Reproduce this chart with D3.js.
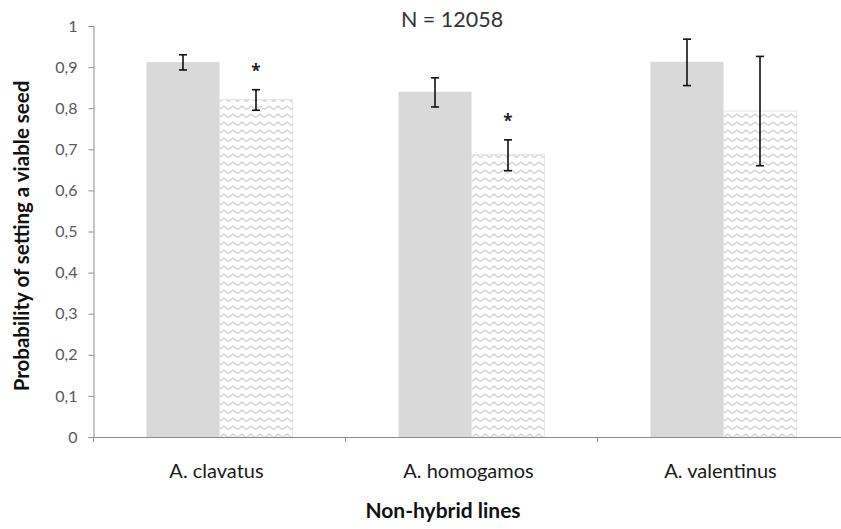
<!DOCTYPE html>
<html>
<head>
<meta charset="utf-8">
<script src="https://cdn.jsdelivr.net/npm/d3@7"></script>
<style>
  html, body { margin: 0; padding: 0; background: #fff; }
  svg { display: block; font-family: Lato, "Open Sans", sans-serif; }
</style>
</head>
<body>
<svg id="chart" width="841" height="529"></svg>
<script>
// Seed viability per line: self (solid) vs. outcross (zigzag) treatments
const categories = ["A. clavatus", "A. homogamos", "A. valentinus"];
const solidValues = [0.912, 0.840, 0.913];
const solidLower = [0.893, 0.803, 0.855];
const solidUpper = [0.930, 0.874, 0.968];
const hatchValues = [0.821, 0.687, 0.793];
const hatchLower = [0.795, 0.648, 0.660];
const hatchUpper = [0.845, 0.723, 0.926];
const significant = [true, true, false];
const yTicks = [0, 0.1, 0.2, 0.3, 0.4, 0.5, 0.6, 0.7, 0.8, 0.9, 1];
const yTickLabels = ["0", "0,1", "0,2", "0,3", "0,4", "0,5", "0,6", "0,7", "0,8", "0,9", "1"];

const svg = d3.select("#chart");
const plotLeft = 93.5, plotTop = 26, plotBottom = 437;
const step = 252;

const y = d3.scaleLinear().domain([0, 1]).range([plotBottom, plotTop]);
const x = d3.scaleBand().domain(categories).range([plotLeft, plotLeft + step * 3]).padding(0);
const sub = d3.scaleBand().domain(["solid", "hatch"])
  .range([x.bandwidth() / 2 - 73, x.bandwidth() / 2 + 73]).padding(0);

// zigzag fill pattern
const defs = svg.append("defs");
const pat = defs.append("pattern")
  .attr("id", "zigzag")
  .attr("patternUnits", "userSpaceOnUse")
  .attr("width", 9).attr("height", 8);
pat.append("rect").attr("width", 9).attr("height", 8).attr("fill", "#fff");
pat.append("path")
  .attr("d", "M0,5.5 L4.5,2 L9,5.5")
  .attr("fill", "none").attr("stroke", "#cdcdcd").attr("stroke-width", 1.2);

// y axis
const yAxis = svg.append("g")
  .attr("transform", `translate(${plotLeft},0)`)
  .call(d3.axisLeft(y).tickValues(yTicks).tickFormat((d, i) => yTickLabels[i]).tickSize(5).tickPadding(11));
yAxis.select(".domain").attr("stroke", "#8c8c8c");
yAxis.selectAll(".tick line").attr("stroke", "#8c8c8c");
yAxis.selectAll(".tick text").attr("fill", "#595959").style("font-size", "16px").style("font-family", "Lato, sans-serif");

// bars
const groups = svg.append("g").selectAll("g")
  .data(categories)
  .join("g")
  .attr("transform", d => `translate(${x(d)},0)`);

groups.append("rect")
  .attr("x", sub("solid"))
  .attr("width", sub.bandwidth())
  .attr("y", (d, i) => y(solidValues[i]))
  .attr("height", (d, i) => plotBottom - y(solidValues[i]))
  .attr("fill", "#d9d9d9");

groups.append("rect")
  .attr("x", sub("hatch"))
  .attr("width", sub.bandwidth())
  .attr("y", (d, i) => y(hatchValues[i]))
  .attr("height", (d, i) => plotBottom - y(hatchValues[i]))
  .attr("fill", "url(#zigzag)")
  .attr("stroke", "#e6e6e6").attr("stroke-width", 1);

// error bars
function errorBar(g, cx, lo, hi) {
  const s = g.append("g").attr("stroke", "#111").attr("stroke-width", 1.6);
  s.append("line").attr("x1", cx).attr("x2", cx).attr("y1", y(lo)).attr("y2", y(hi));
  s.append("line").attr("x1", cx - 4).attr("x2", cx + 4).attr("y1", y(lo)).attr("y2", y(lo));
  s.append("line").attr("x1", cx - 4).attr("x2", cx + 4).attr("y1", y(hi)).attr("y2", y(hi));
}
groups.each(function (d, i) {
  const g = d3.select(this);
  errorBar(g, sub("solid") + sub.bandwidth() / 2, solidLower[i], solidUpper[i]);
  errorBar(g, sub("hatch") + sub.bandwidth() / 2, hatchLower[i], hatchUpper[i]);
  if (significant[i]) {
    g.append("text")
      .attr("x", sub("hatch") + sub.bandwidth() / 2)
      .attr("y", y(hatchUpper[i]) - 13)
      .attr("text-anchor", "middle")
      .attr("fill", "#222")
      .style("font-size", "17px")
      .style("font-weight", "bold")
      .style("font-family", "'Open Sans', sans-serif")
      .text("*");
  }
});

// x axis
const xAxis = svg.append("g")
  .attr("transform", `translate(0,${plotBottom})`)
  .call(d3.axisBottom(x).tickSize(0).tickPadding(27));
xAxis.select(".domain").attr("stroke", "#8c8c8c");
xAxis.selectAll(".tick text").attr("fill", "#1a1a1a").attr("dx", -3)
  .style("font-size", "20px").style("font-family", "Lato, sans-serif");
xAxis.selectAll(".boundary")
  .data(d3.range(4))
  .join("line")
  .attr("x1", i => plotLeft + i * step).attr("x2", i => plotLeft + i * step)
  .attr("y1", 0).attr("y2", 5)
  .attr("stroke", "#8c8c8c");

// titles
svg.append("text")
  .attr("x", 452).attr("y", 27)
  .attr("text-anchor", "middle")
  .attr("fill", "#333")
  .style("font-size", "21.5px")
  .text("N = 12058");

svg.append("text")
  .attr("x", 443).attr("y", 518)
  .attr("text-anchor", "middle")
  .attr("fill", "#111")
  .style("font-size", "21px").style("font-weight", "bold")
  .text("Non-hybrid lines");

svg.append("text")
  .attr("transform", "translate(29,236) rotate(-90)")
  .attr("text-anchor", "middle")
  .attr("fill", "#111")
  .style("font-size", "20.5px").style("font-weight", "bold")
  .text("Probability of setting a viable seed");
</script>
</body>
</html>
